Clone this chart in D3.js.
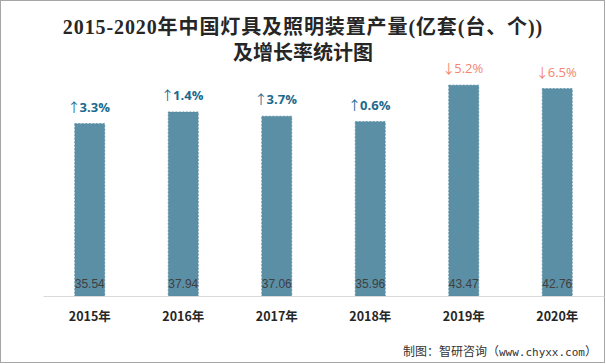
<!DOCTYPE html>
<html><head><meta charset="utf-8">
<script src="https://cdn.jsdelivr.net/npm/d3@7"></script>
<style>html,body{margin:0;padding:0;background:#fff;}svg{display:block;}</style>
</head><body>
<script>
const years = ["2015年","2016年","2017年","2018年","2019年","2020年"];
const output = [35.54, 37.94, 37.06, 35.96, 43.47, 42.76];
const growthArrow = ["↑","↑","↑","↑","↓","↓"];
const growthPct = ["3.3%","1.4%","3.7%","0.6%","5.2%","6.5%"];
const growthDir = ["up","up","up","up","down","down"];

const W = 606, H = 364;
const svg = d3.select("body").append("svg").attr("width", W).attr("height", H);

svg.append("rect").attr("x",0.5).attr("y",0.5).attr("width",604).attr("height",362)
  .attr("fill","#fff").attr("stroke","#a6a6a6").attr("stroke-width",1);

const x = d3.scaleBand().domain(years).range([43, 604]).paddingInner(0.68).paddingOuter(0.34);
const y = d3.scaleLinear().domain([0, 50]).range([296, 53.5]);

// title
const title = svg.append("text").attr("text-anchor","middle")
  .attr("font-family","'Liberation Serif','Noto Sans CJK SC',serif")
  .attr("font-weight","bold").attr("font-size",20).attr("fill","#262626");
title.append("tspan").attr("x",303).attr("y",34).attr("letter-spacing",0.9).text("2015-2020年中国灯具及照明装置产量(亿套(台、个))");
title.append("tspan").attr("x",303).attr("y",60).text("及增长率统计图");

// bars
svg.selectAll("rect.bar").data(output).join("rect").attr("class","bar")
  .attr("x",(d,i)=>x(years[i])).attr("width",x.bandwidth())
  .attr("y",d=>y(d)).attr("height",d=>y(0)-y(d))
  .attr("fill","#5b8fa6").attr("stroke","#55889e").attr("stroke-width",0.8)
  .attr("stroke-dasharray","2,1.5");

// axis
const xAxis = svg.append("g").attr("transform","translate(0,296)").call(d3.axisBottom(x).tickSize(0).tickPadding(16));
xAxis.select(".domain").attr("stroke","#d9d9d9").attr("stroke-width",1.2);
xAxis.selectAll("text").attr("font-family","'Noto Sans CJK SC','Liberation Sans',sans-serif")
  .attr("font-size",12.5).attr("font-weight","bold").attr("fill","#262626");

// value labels
svg.selectAll("text.val").data(output).join("text").attr("class","val")
  .attr("x",(d,i)=>x(years[i])+x.bandwidth()/2).attr("y",288)
  .attr("text-anchor","middle").attr("font-family","'Liberation Sans',sans-serif")
  .attr("font-size",12).attr("fill","#404040").text(d=>d.toFixed(2));

// growth labels
const gr = svg.selectAll("text.gr").data(growthPct).join("text").attr("class","gr")
  .attr("x",(d,i)=>x(years[i])+x.bandwidth()/2+1).attr("y",(d,i)=>y(output[i])-12)
  .attr("text-anchor","middle")
  .attr("font-size",13)
  .attr("font-weight",(d,i)=>growthDir[i]==="up"?"bold":"normal")
  .attr("fill",(d,i)=>growthDir[i]==="up"?"#1b6a8e":"#f4846e");
gr.append("tspan").attr("font-family","'Noto Sans CJK SC',sans-serif").attr("font-weight","normal")
  .attr("dx",-2).text((d,i)=>growthArrow[i]);
gr.append("tspan").attr("font-family","'Open Sans','Liberation Sans',sans-serif").attr("dx",-1).text(d=>d);

// source
const src = svg.append("text").attr("x",597).attr("y",356).attr("text-anchor","end")
  .attr("font-size",12).attr("fill","#333");
src.append("tspan").attr("font-family","'Noto Sans CJK SC',sans-serif").text("制图：智研咨询（");
src.append("tspan").attr("font-family","'DejaVu Sans Mono','Liberation Mono',monospace").attr("font-size",11).text("www.chyxx.com");
src.append("tspan").attr("font-family","'Noto Sans CJK SC',sans-serif").text("）");
</script>
</body></html>
